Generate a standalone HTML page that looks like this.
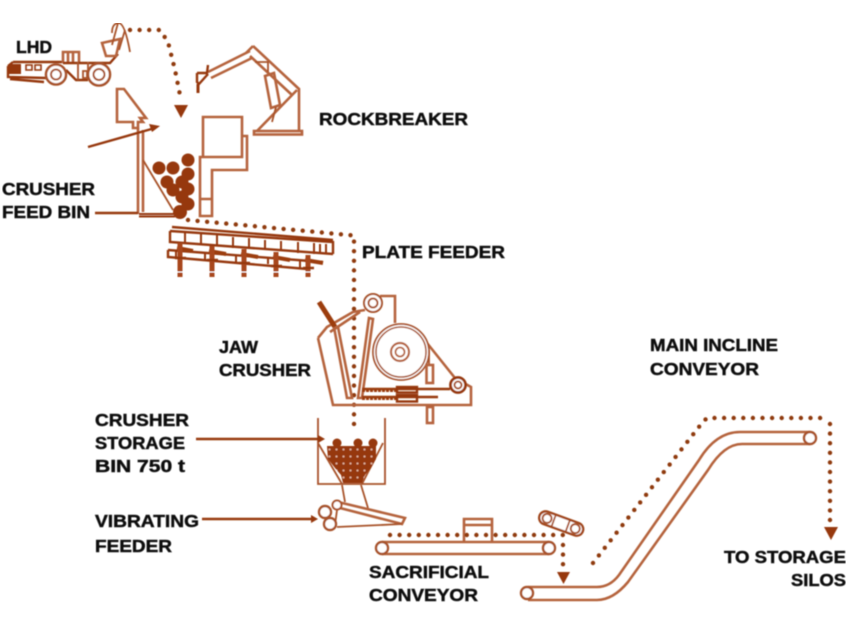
<!DOCTYPE html>
<html><head><meta charset="utf-8"><style>
html,body{margin:0;padding:0;background:#fff;width:856px;height:622px;overflow:hidden}
svg{display:block}
text{font-family:"Liberation Sans",sans-serif;font-weight:700;font-size:17.5px;fill:#111;stroke:#111;stroke-width:.45}
.l{fill:none;stroke:#a8532a;stroke-width:1.8}
.t{fill:none;stroke:#b5643c;stroke-width:2.6}
.d{fill:none;stroke:#96380c;stroke-width:2.4}
.x{fill:none;stroke:#9c3d10;stroke-width:4}
.dots{fill:none;stroke:#8f3a10;stroke-width:4.4;stroke-linecap:round;stroke-dasharray:0 9.6}
.f{fill:#96380c}
.w{fill:#fff;stroke:#a8532a;stroke-width:2}
</style></head><body>
<svg width="856" height="622" viewBox="0 0 856 622" xmlns="http://www.w3.org/2000/svg">
<defs>
<pattern id="rk" width="7" height="7" patternUnits="userSpaceOnUse" x="326" y="446">
<rect width="7" height="7" fill="#96380c"/><circle cx="3.500" cy="3.500" r="1" fill="#e6bda5"/>
</pattern>
<filter id="b" x="0" y="0" width="100%" height="100%"><feGaussianBlur stdDeviation="0.45"/></filter>
</defs>
<g filter="url(#b)">
<!-- LHD -->
<g>
<path class="d" d="M13 62H63M8 66L13 62M8 66V77L46 78M10 79L44 82"/>
<rect x="9" y="64" width="12" height="10" class="f"/>
<path class="d" style="stroke-width:1.600" d="M26 65h6v5h-6zM35 65h6v5h-6z"/>
<path class="t" d="M63 63V52H79V63M68 53V62M73 53V62"/>
<path class="d" d="M63 63H110L118 54M66 70L76 80H88"/>
<path class="l" d="M78 62V80M88 62V80M83 71h4v7h-4z"/>
<path class="t" d="M102 43L120 39L116 56H106Z"/>
<path class="l" d="M112 33Q112 23 119 23Q125 24 130 52M118 23L112 45M125 30L119 50"/>
<circle cx="56" cy="74.500" r="10" class="w" style="stroke-width:2.600"/><circle cx="56" cy="74.500" r="5" class="w"/>
<circle cx="99" cy="74.500" r="11" class="w" style="stroke-width:2.600"/><circle cx="99" cy="74.500" r="5.500" class="w"/>
</g>
<path class="dots" d="M130 30H160L168 42L175 70L181 100"/>
<path class="f" d="M174 105H188L181 118Z"/>
<!-- Rockbreaker -->
<g>
<path class="t" d="M253 46L299 89V131M246 53L253 46M250 56L292 95M257 131L297 90"/>
<rect x="254" y="131" width="48" height="3.500" class="t"/>
<path class="t" d="M208 72L250 51M211 78L252 58"/>
<path class="d" d="M197 73H207L208 65M197 73V82L199 84L208 74"/>
<path class="d" d="M198 84L198 93" style="stroke-width:3"/>
<path class="l" d="M255 62H268V72"/>
<path class="t" d="M265 76L274 73L280 105L271 108Z"/>
<path class="l" d="M276 107L272 122"/>
</g>
<!-- Feed bin -->
<g>
<path class="t" d="M117 89H124L146 118L140 118L143 122H138V128H133V122H117Z"/>
<path class="t" d="M138 128V214M143 130V212"/>
<path class="d" d="M139 214H175M139 216.500H175" style="stroke-width:2"/>
<path class="l" d="M143 160L173 210"/>
<path class="d" d="M88 147L155 128"/>
<path class="f" d="M149 124L160 126L152 132Z"/>
<path class="d" d="M95 213H138"/>
<path class="t" d="M203 117H242V157H203ZM242 136H247V170H212V216H200V157H203M200 199H212"/>
<g class="f">
<circle cx="159" cy="168" r="6.500"/><circle cx="173" cy="168" r="6.500"/><circle cx="188" cy="160" r="6.500"/><circle cx="188" cy="174" r="6.500"/>
<circle cx="167" cy="182" r="6.500"/><circle cx="182" cy="182" r="6.500"/><circle cx="188" cy="189" r="6.500"/><circle cx="173" cy="190" r="6.500"/>
<circle cx="182" cy="197" r="6.500"/><circle cx="188" cy="204" r="6.500"/><circle cx="180" cy="212" r="7"/>
</g>
</g>
<path class="dots" d="M188 220L354 235.500V430"/>
<!-- Plate feeder -->
<g>
<path class="d" d="M172 227L333 240M170 231L333 242V254M170 231V242L333 254M168 250L323 262M168 250V257L307 269"/>
<path class="d" style="stroke-width:2" d="M185 233V243M201 234V245M217 235V246M233 237V248M249 238V249M265 240V250M281 241V251M298 242V253M314 243V254M320 244V254M326 244V254"/>
<path class="d" style="stroke-width:2" d="M176 250V257M205 253V259M236 255V262M268 258V264M300 261V268"/>
<path class="x" style="stroke-width:4" d="M177 248L193 251M209 251L226 254M241 254L258 257M273 257L290 260M305 260L323 263"/>
<path stroke="#a8461a" fill="none" stroke-width="5" d="M180 243V277M212 246V277M244 249V277M276 252V277M308 255V277"/>
<path class="d" d="M175 258H186M207 260H218M239 263H250M271 266H282M303 268H314"/>
<path stroke="#fff" fill="none" stroke-width="1" d="M177 272H183M209 272H215M241 272H247M273 272H279M305 272H311"/>
</g>
<!-- Jaw crusher -->
<g>
<path class="t" d="M318 338L333 405H471V387L455 378L427 343M380 296H395V323M318 338L327 327L353 312L365 310M330 332L360 312"/>
<path class="x" style="stroke-width:5" d="M319 302L335 327"/>
<path class="t" d="M334 327L347 398H352L338 327M369 318L373 319L362 398H358Z"/>
<circle cx="401" cy="352" r="28" fill="#fff" stroke="#a8532a" stroke-width="1.800"/>
<circle cx="401" cy="352" r="25" fill="#fff" stroke="#a8532a" stroke-width="1.600"/>
<circle cx="400" cy="352" r="9" fill="#fff" stroke="#b5643c" stroke-width="2.200"/>
<circle cx="400" cy="352" r="4.500" fill="#fff" stroke="#b5643c" stroke-width="1.800"/>
<circle cx="373" cy="303" r="9" class="w"/><circle cx="373" cy="303" r="4.500" class="w"/>
<path class="d" d="M362 389H450M362 397H438"/>
<path class="x" style="stroke-width:4" stroke-dasharray="3 1" d="M362 390H397M362 398H397"/>
<rect x="397" y="387" width="20" height="5.500" class="d" fill="#fff"/>
<rect x="397" y="395" width="20" height="6.500" class="d" fill="#fff"/>
<circle cx="458" cy="385" r="7.500" class="w" style="stroke-width:2.800;stroke:#96380c"/><circle cx="458" cy="385" r="3.500" class="w"/>
<path class="l" d="M429 350V365"/>
<rect x="426.500" y="365" width="6.500" height="18" class="t" fill="#fff"/>
<rect x="427" y="407" width="6" height="16" class="t"/>
</g>
<!-- Storage bin -->
<g>
<path class="l" d="M318 418V484H385V418M318 443L342 484M383 443L362 484"/>
<path class="l" d="M342 485L345 502M361 485L368 508"/>
<path fill="url(#rk)" d="M327 446H376V459L371 468L365 475L362 483H343L341 475L335 468L328 459Z"/>
<circle cx="337" cy="443" r="4.500" class="f"/><circle cx="358" cy="443" r="4.500" class="f"/><circle cx="373" cy="443" r="4.500" class="f"/>
<path class="d" d="M196 439H319"/><path class="f" d="M318 435L325 439L318 443Z"/>
</g>
<!-- Vibrating feeder -->
<g>
<path class="d" d="M202 519H312"/><path class="f" d="M311 515L318 519L311 523Z"/>
<path class="t" d="M338 502L405 518L402 524L340 508"/>
<path class="l" d="M337 527L402 524M337 510L335 525"/>
<circle cx="325" cy="512" r="6" class="w" style="stroke-width:2.400"/>
<circle cx="330" cy="524" r="6" class="w" style="stroke-width:2.400"/>
<circle cx="337" cy="505" r="4.500" class="w"/>
</g>
<!-- Sacrificial conveyor -->
<g>
<path class="t" d="M382 542H549M382 554H549"/>
<circle cx="382" cy="548" r="6" class="w" style="stroke-width:2.400"/>
<circle cx="549" cy="548" r="6" class="w" style="stroke-width:2.400"/>
<path class="t" d="M464 541V519H492V541M464 525H492"/>
<path class="dots" d="M390 535H563"/>
<path class="dots" d="M563 545V568"/>
<path class="f" d="M557 572H570L563.500 584Z"/>
<g transform="rotate(20 561 524)">
<rect x="538" y="517" width="46" height="13" rx="6.500" fill="#fff" stroke="#a1461a" stroke-width="2.400"/>
<circle cx="546" cy="523.500" r="4.500" class="w"/><circle cx="576" cy="523.500" r="4.500" class="w"/>
<path class="l" d="M553 518V529M568 518V529"/>
</g>
</g>
<!-- Main incline conveyor -->
<g>
<path class="t" d="M528 587H597Q610 587 619 575L699 460Q716 432 740 432H810"/>
<path class="t" d="M528 600H597Q613 600 628 582L708 470Q724 444 742 444H810"/>
<circle cx="527" cy="593" r="6" class="w" style="stroke-width:2.400"/>
<circle cx="810" cy="438" r="6" class="w" style="stroke-width:2.400"/>
<path class="dots" d="M593 563L702 423L707 418H822"/>
<path class="dots" d="M830 424V526"/>
<path class="f" d="M824 527H838L831 540Z"/>
</g>
<!-- Labels -->
<text x="16" y="53" textLength="36" lengthAdjust="spacingAndGlyphs">LHD</text>
<text x="319" y="125" textLength="149" lengthAdjust="spacingAndGlyphs">ROCKBREAKER</text>
<text x="2" y="195" textLength="93" lengthAdjust="spacingAndGlyphs">CRUSHER</text>
<text x="2" y="218" textLength="88" lengthAdjust="spacingAndGlyphs">FEED BIN</text>
<text x="362" y="258" textLength="143" lengthAdjust="spacingAndGlyphs">PLATE FEEDER</text>
<text x="219" y="353" textLength="39" lengthAdjust="spacingAndGlyphs">JAW</text>
<text x="219" y="376" textLength="92" lengthAdjust="spacingAndGlyphs">CRUSHER</text>
<text x="95" y="426" textLength="94" lengthAdjust="spacingAndGlyphs">CRUSHER</text>
<text x="95" y="449" textLength="90" lengthAdjust="spacingAndGlyphs">STORAGE</text>
<text x="95" y="472" textLength="90" lengthAdjust="spacingAndGlyphs">BIN 750 t</text>
<text x="95" y="527" textLength="104" lengthAdjust="spacingAndGlyphs">VIBRATING</text>
<text x="95" y="552" textLength="77" lengthAdjust="spacingAndGlyphs">FEEDER</text>
<text x="369" y="578" textLength="120" lengthAdjust="spacingAndGlyphs">SACRIFICIAL</text>
<text x="369" y="601" textLength="109" lengthAdjust="spacingAndGlyphs">CONVEYOR</text>
<text x="650" y="351" textLength="128" lengthAdjust="spacingAndGlyphs">MAIN INCLINE</text>
<text x="650" y="375" textLength="109" lengthAdjust="spacingAndGlyphs">CONVEYOR</text>
<text x="724" y="563" textLength="122" lengthAdjust="spacingAndGlyphs">TO STORAGE</text>
<text x="791" y="586" textLength="55" lengthAdjust="spacingAndGlyphs">SILOS</text>
</g>
</svg>
</body></html>
